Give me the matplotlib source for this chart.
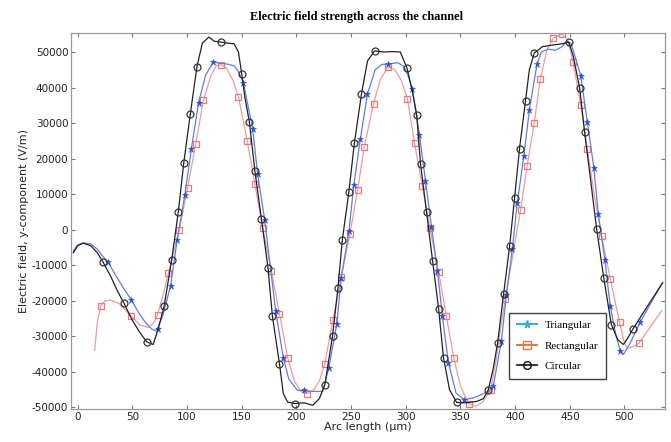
import numpy as np
import matplotlib

matplotlib.use('Agg')

from matplotlib import pyplot as plt
from matplotlib.lines import Line2D

plt.rcParams['axes.unicode_minus'] = False

# Circular channel (black)
circ_x = [-4, 0, 5, 12, 18, 23, 30, 36, 42, 50, 57, 63, 69, 74, 79, 86, 92, 97, 103, 109, 114, 120, 125, 131,
          137, 143, 147, 150, 153, 157, 162, 168, 174, 178, 184.5, 188, 192, 199, 207, 215, 221, 226, 233, 238,
          242, 248, 253, 259.5, 265, 271.5, 280, 288, 295, 301, 306, 310, 313.5, 319, 324.5, 330, 334.5, 340,
          346.5, 355, 365, 371, 375.5, 380, 384, 389.5, 395, 399.5, 404, 409.5, 413, 417.5, 425, 435, 443, 449,
          453, 459, 463.5, 469, 474.5, 481, 488, 494, 499, 503, 508, 520, 535]
circ_y = [-6500, -4500, -3800, -4500, -6500, -9000, -13000, -17000, -20500, -25500, -29000, -31500, -32300,
          -27500, -21600, -8400, 5000, 18800, 32600, 45800, 52500, 54200, 53000, 52800, 52500, 52300, 50000,
          43800, 37000, 30300, 16600, 3100, -10700, -24200, -37700, -46100, -48500, -48900, -48700, -49400,
          -47500, -43600, -30000, -16300, -2800, 10700, 24400, 38200, 47500, 50300, 50000, 50100, 50000, 45600,
          39000, 32300, 18500, 5000, -8700, -22200, -36000, -45000, -48600, -48700, -48300, -47500, -45000,
          -39000, -31800, -18000, -4500, 9000, 22800, 36300, 45000, 49700, 51500, 52000, 52300, 52800, 49000,
          39900, 27500, 14000, 300, -13500, -26700, -31000, -32300, -30500, -27800, -22000, -14900]
circ_marks = [23, 42, 63, 79, 86, 92, 97, 103, 109, 131, 150, 157, 162, 168, 174, 178, 184.5, 199, 226, 233,
              238, 242, 248, 253, 259.5, 271.5, 301, 310, 313.5, 319, 324.5, 330, 334.5, 346.5, 375.5, 384,
              389.5, 395, 399.5, 404, 409.5, 417.5, 449, 459, 463.5, 474.5, 481, 488, 508]

# Triangular channel (blue)
tri_x = [-4, 0, 5, 12, 18, 23, 28, 35, 42, 49, 56, 63, 68, 71, 73, 78, 85, 91, 98, 104, 110.5, 117, 124, 130,
         137, 143, 147, 151.5, 156, 160, 164.5, 171, 176, 181, 188, 193, 201, 206.5, 215, 224, 229.5, 237, 241,
         248, 252.5, 258.5, 265, 272, 278, 284, 292.5, 298, 302, 306, 312.5, 318, 323.5, 329, 333.5, 339, 346,
         353.5, 362, 371, 376, 380, 387.5, 392, 397.5, 402, 408, 413, 420, 424, 430, 437, 443, 447, 451, 455,
         460, 466, 472, 476, 482, 487, 492, 496, 499, 505, 514.5, 534]
tri_y = [-6000, -4300, -3700, -4000, -5500, -7500, -9200, -13000, -16500, -19700, -23500, -26500, -28000,
         -28400, -27800, -24000, -15700, -2800, 9800, 22800, 35700, 43500, 47200, 46800, 46600, 46100, 44500,
         41300, 34500, 28400, 15700, 2800, -10000, -22800, -36000, -42000, -45200, -45200, -45500, -45500,
         -39000, -26400, -13500, -500, 12600, 25600, 38200, 45000, 46500, 46600, 47000, 46000, 43500, 39600,
         26700, 13800, 800, -11500, -24400, -37400, -46000, -47800, -47300, -46100, -45500, -44100, -31200,
         -18300, -5300, 7600, 20800, 33700, 46600, 50000, 50800, 50500, 51500, 53000, 52500, 48500, 43300,
         30300, 17400, 4500, -8400, -21600, -29500, -34000, -35100, -32000, -25900, -15200]
tri_marks = [28, 49, 73, 85, 91, 98, 104, 110.5, 124, 151.5, 160, 164.5, 171, 181, 188, 206.5, 229.5, 237,
             241, 248, 252.5, 258.5, 265, 284, 306, 312.5, 318, 323.5, 329, 333.5, 339, 353.5, 380, 387.5, 392,
             397.5, 402, 408, 413, 420, 460, 466, 472, 476, 482, 487, 496, 514.5]

# Rectangular channel (red)
rect_x = [15.5, 18, 21, 25, 30, 38, 48.5, 57, 65, 70, 73, 78, 83, 93, 100.5, 108, 115, 122, 127, 131, 136,
          142, 147, 155, 162, 169, 177, 184.5, 192, 198, 204, 210, 216, 221, 226, 233.5, 241, 249, 256, 262,
          270.5, 277, 284, 290, 296, 301.5, 308, 315, 322, 330, 337, 344, 350, 357.5, 364, 370, 377.5, 383,
          386, 391, 398, 405, 411, 417.5, 423, 429, 435, 443, 448, 453, 460, 466, 472, 479, 487, 495.5, 500,
          502.5, 507, 513, 534]
rect_y = [-34000, -26000, -21400, -20000, -19800, -20800, -24200, -26800, -27500, -26000, -23900, -18500,
          -12100, 0, 11800, 24200, 36500, 43500, 46200, 46400, 45500, 42000, 37400, 25000, 12900, 600, -11500,
          -23600, -36000, -42500, -45500, -46100, -45000, -42500, -37700, -25300, -13200, -1100, 11200, 23300,
          35400, 42500, 45800, 45000, 42000, 36800, 24400, 12400, 600, -11800, -24200, -36200, -44000, -48900,
          -49700, -48500, -45200, -36000, -29000, -19400, -7000, 5600, 18000, 30100, 42400, 50500, 54000,
          55000, 53500, 47200, 35100, 22800, 10500, -1700, -13800, -26100, -32000, -33400, -33000, -32000,
          -22800]
rect_marks = [21, 48.5, 73, 83, 93, 100.5, 108, 115, 131, 147, 155, 162, 169, 177, 184.5, 192, 210, 226,
              233.5, 241, 249, 256, 262, 270.5, 284, 301.5, 308, 315, 322, 330, 337, 344, 357.5, 377.5, 391,
              405, 411, 417.5, 423, 435, 443, 453, 460, 466, 479, 487, 495.5, 513]

x_ticks = [0, 50, 100, 150, 200, 250, 300, 350, 400, 450, 500]
y_ticks = [-50000, -40000, -30000, -20000, -10000, 0, 10000, 20000, 30000, 40000, 50000]


def mark_idx(xs, marks):
    return [i for i, v in enumerate(xs) if v in marks]


my_dpi = 100
fig = plt.figure(figsize=(671 / my_dpi, 442 / my_dpi), dpi=my_dpi)
ax = fig.add_axes([0.106, 0.075, 0.885, 0.850])

ax.plot(rect_x, rect_y, color='#f29a9a', lw=0.9, marker='s', markersize=5, markerfacecolor='none',
        markeredgecolor='#e57b7b', markeredgewidth=0.9, markevery=mark_idx(rect_x, rect_marks))
ax.plot(tri_x, tri_y, color='#5b7fe8', lw=0.9, marker='*', markersize=5, markerfacecolor='#2a4fd6',
        markeredgecolor='#2a4fd6', markeredgewidth=0.4, markevery=mark_idx(tri_x, tri_marks))
ax.plot(circ_x, circ_y, color='#222222', lw=0.9, marker='o', markersize=5, markerfacecolor='none',
        markeredgecolor='#333333', markeredgewidth=0.9, markevery=mark_idx(circ_x, circ_marks))

ax.set_xlim(-6, 537)
ax.set_ylim(-50400, 55300)
ax.set_xticks(x_ticks)
ax.set_yticks(y_ticks)
ax.tick_params(direction='in', top=True, right=True, labelsize=7.5, length=3, color='#777777',
               labelcolor='#222222', pad=2)
for s in ax.spines.values():
    s.set_color('#999999')
    s.set_linewidth(0.9)

ax.set_xlabel('Arc length (\u00b5m)', fontsize=8, labelpad=0, color='#222222')
ax.set_ylabel('Electric field, y-component (V/m)', fontsize=8, labelpad=2, color='#222222')

fig.text(0.532, 0.962, 'Electric field strength across the channel', ha='center', va='center',
         family='Liberation Serif', fontweight='bold', fontsize=8.8)

handles = [
    Line2D([], [], color='#30aed0', lw=1.4, marker='*', markersize=5.5, markerfacecolor='#30aed0'),
    Line2D([], [], color='#d9784a', lw=1.4, marker='s', markersize=5.5, markerfacecolor='none'),
    Line2D([], [], color='#111111', lw=1.2, marker='o', markersize=5.5, markerfacecolor='none'),
]
leg = ax.legend(handles, ['Triangular', 'Rectangular', 'Circular'], loc='lower left',
                bbox_to_anchor=(0.737, 0.08), prop={'family': 'Liberation Serif', 'size': 8},
                frameon=True, fancybox=False, edgecolor='#111111', handlelength=1.8,
                labelspacing=0.95, borderpad=0.7, handletextpad=0.7, borderaxespad=0.0)
leg.get_frame().set_linewidth(1.0)

plt.savefig('out.png', dpi=my_dpi)
